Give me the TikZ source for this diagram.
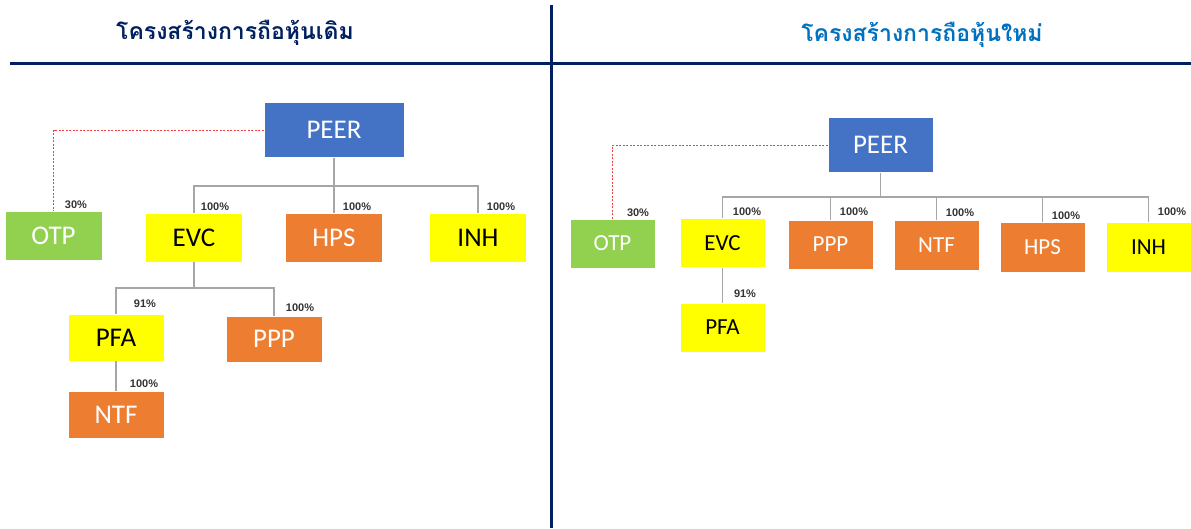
\documentclass[tikz,border=0pt]{standalone}
\usepackage{fontspec}
\setmainfont{Carlito}
\newfontfamily\thaifont[Script=Thai]{Loma}
\newfontfamily\pctfont{Liberation Sans}
\definecolor{navy}{HTML}{002060}
\definecolor{tblue}{HTML}{0070C0}
\definecolor{peerblue}{HTML}{4472C4}
\definecolor{ogreen}{HTML}{92D050}
\definecolor{oorange}{HTML}{ED7D31}
\definecolor{oyellow}{HTML}{FFFF00}
\definecolor{lgrey}{HTML}{A6A6A6}
\definecolor{dred}{HTML}{F04040}
\definecolor{pctgrey}{HTML}{333333}
\tikzset{
  box/.style={draw=white, line width=0.6pt, inner sep=0pt, font=\fontsize{27}{30}\selectfont},
  rbox/.style={draw=white, line width=0.6pt, inner sep=0pt, font=\fontsize{23}{27}\selectfont},
  peerc/.style={fill=peerblue, text=white},
  greenc/.style={fill=ogreen, text=white},
  orangec/.style={fill=oorange, text=white},
  yellowc/.style={fill=oyellow, text=black},
  conn/.style={draw=lgrey, line width=1.2pt},
  redline/.style={draw=dred, line width=0.8pt, dash pattern=on 2pt off 1.5pt},
  pct/.style={font=\pctfont\bfseries\fontsize{11}{13}\selectfont, text=pctgrey, inner sep=0pt},
  titlel/.style={font=\thaifont\bfseries\fontsize{23}{28}\selectfont, text=navy, inner sep=0pt},
  titler/.style={font=\thaifont\bfseries\fontsize{23}{28}\selectfont, text=tblue, inner sep=0pt},
  rule/.style={draw=navy, line width=3pt}
}
\begin{document}
\begin{tikzpicture}[x=1pt,y=-1pt]
\useasboundingbox[fill=white] (0,0) rectangle (1191,528);
% titles and rules
\node[titlel] (tl) at (235,33) {โครงสร้างการถือหุ้นเดิม};
\node[titler] (tr) at (922,35) {โครงสร้างการถือหุ้นใหม่};
\coordinate (hl) at (10,63);
\coordinate (hr) at (1191,63);
\coordinate (vt) at (551,5);
\coordinate (vb) at (551,528);
\draw[rule] (hl) -- (hr);
\draw[rule] (vt) -- (vb);

% ---------- left diagram ----------
\node[box, peerc, minimum width=140pt, minimum height=55pt] (Lpeer) at (334,130) {PEER};
\node[box, greenc, minimum width=97pt, minimum height=49pt] (Lotp) at (53.5,235.5) {OTP};
\node[box, yellowc, minimum width=97pt, minimum height=49pt] (Levc) at (194,237.5) {EVC};
\node[box, orangec, minimum width=97pt, minimum height=49pt] (Lhps) at (334,237.5) {HPS};
\node[box, yellowc, minimum width=97pt, minimum height=49pt] (Linh) at (478,237.5) {INH};
\node[box, yellowc, minimum width=96pt, minimum height=47pt] (Lpfa) at (116,337.5) {PFA};
\node[box, orangec, minimum width=96pt, minimum height=46pt] (Lppp) at (274,339) {PPP};
\node[box, orangec, minimum width=96pt, minimum height=47pt] (Lntf) at (116,414.5) {NTF};

\coordinate (Lbus) at (334,186);
\draw[conn] (Lpeer.south) -- (Lbus);
\draw[conn] (Lbus) -| (Levc.north);
\draw[conn] (Lbus) -| (Linh.north);
\draw[conn] (Lbus) -- (Lhps.north);
\coordinate (Lbus2) at (194,288);
\draw[conn] (Levc.south) -- (Lbus2);
\draw[conn] (Lbus2) -| (Lpfa.north);
\draw[conn] (Lbus2) -| (Lppp.north);
\draw[conn] (Lpfa.south) -- (Lntf.north);
\draw[redline] (Lpeer.west) -| (Lotp.north);

\node[pct] (p1) at (76,205) {30\%};
\node[pct] (p2) at (215,207) {100\%};
\node[pct] (p3) at (357,207) {100\%};
\node[pct] (p4) at (501,207) {100\%};
\node[pct] (p5) at (145,304) {91\%};
\node[pct] (p6) at (300,308) {100\%};
\node[pct] (p7) at (144,384) {100\%};

% ---------- right diagram ----------
\node[box, peerc, minimum width=105pt, minimum height=55pt] (Rpeer) at (880.5,145) {PEER};
\node[rbox, greenc, minimum width=85pt, minimum height=49pt] (Rotp) at (612.5,243.5) {OTP};
\node[rbox, yellowc, minimum width=85pt, minimum height=49pt] (Revc) at (722.5,243) {EVC};
\node[rbox, orangec, minimum width=85pt, minimum height=49pt] (Rppp) at (830.5,244.5) {PPP};
\node[rbox, orangec, minimum width=85pt, minimum height=50pt] (Rntf) at (936.5,245) {NTF};
\node[rbox, orangec, minimum width=85pt, minimum height=50pt] (Rhps) at (1042.5,247) {HPS};
\node[rbox, yellowc, minimum width=85pt, minimum height=50pt] (Rinh) at (1148.5,247) {INH};
\node[rbox, yellowc, minimum width=85pt, minimum height=49pt] (Rpfa) at (722.5,327.5) {PFA};

\coordinate (Rbus) at (880.5,197);
\draw[conn] (Rpeer.south) -- (Rbus);
\draw[conn] (Rbus) -| (Revc.north);
\draw[conn] (Rbus) -| (Rppp.north);
\draw[conn] (Rbus) -| (Rntf.north);
\draw[conn] (Rbus) -| (Rhps.north);
\draw[conn] (Rbus) -| (Rinh.north);
\draw[conn] (Revc.south) -- (Rpfa.north);
\draw[redline] (Rpeer.west) -| (Rotp.north);

\node[pct] (q1) at (638,213) {30\%};
\node[pct] (q2) at (747,212) {100\%};
\node[pct] (q3) at (854,212) {100\%};
\node[pct] (q4) at (960,213) {100\%};
\node[pct] (q5) at (1066,216) {100\%};
\node[pct] (q6) at (1172,212) {100\%};
\node[pct] (q7) at (745,294) {91\%};
\end{tikzpicture}
\end{document}
